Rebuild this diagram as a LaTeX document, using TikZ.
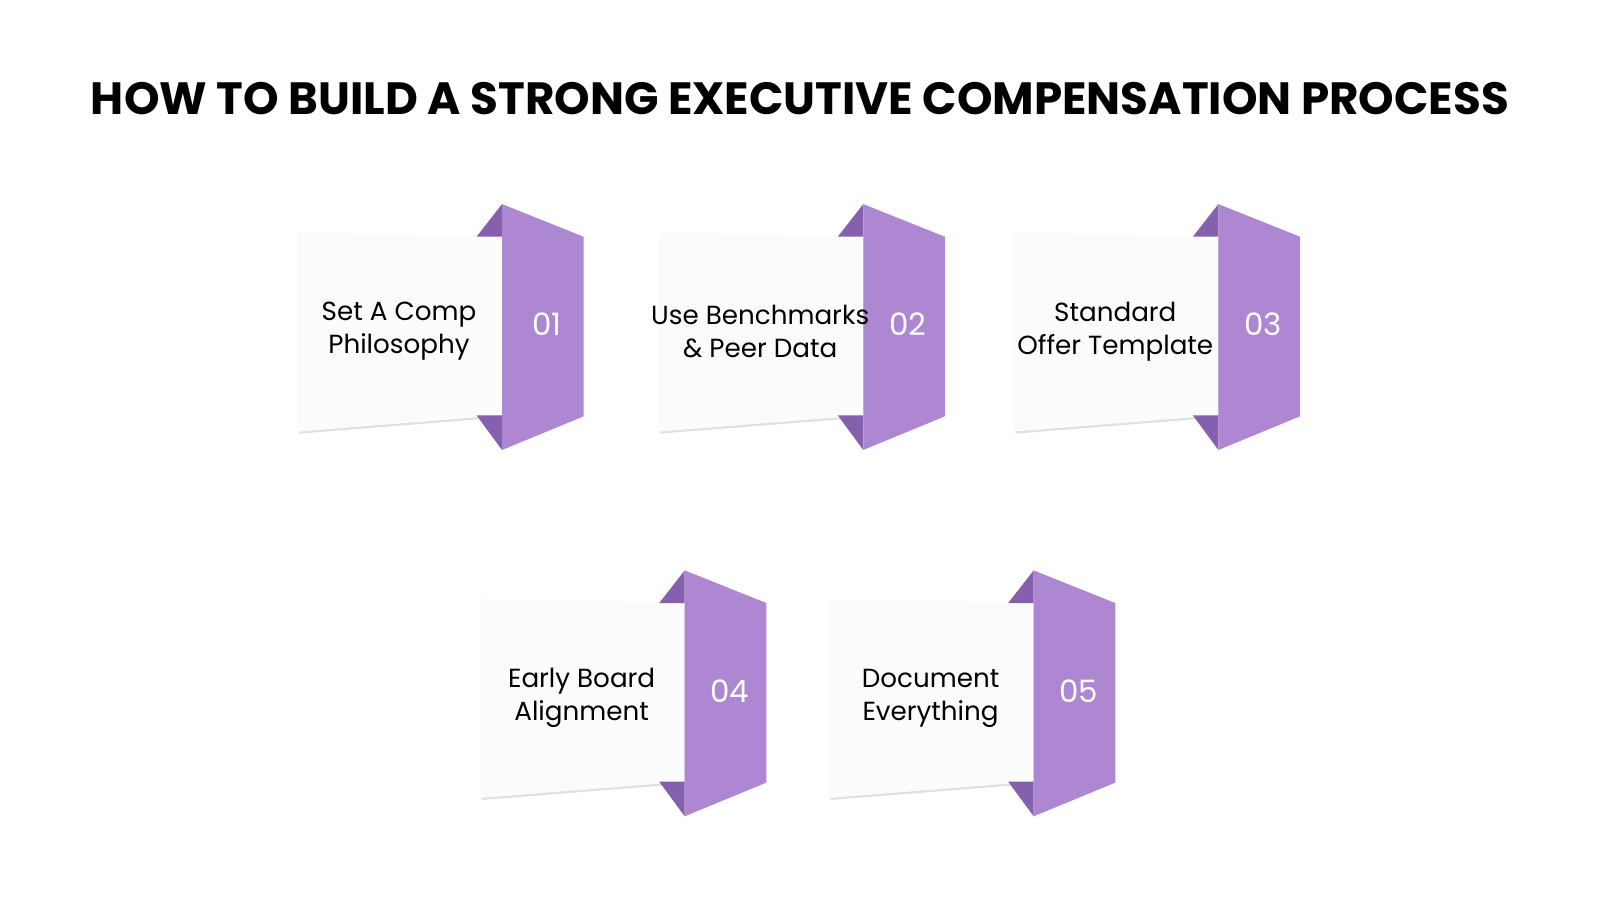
\documentclass[tikz,border=0pt]{standalone}
\usepackage{fontspec}
\setmainfont{Poppins}
\usetikzlibrary{positioning,calc}
\definecolor{panelpurple}{HTML}{AE87D2}
\definecolor{darkpurple}{HTML}{8560AE}
\definecolor{cardwhite}{HTML}{FBFBFB}
\tikzset{
  cardtext/.style={align=center, font=\fontsize{7.3}{9.2}\selectfont, text=black},
  numtext/.style={font=\fontsize{8.6}{10}\selectfont, text=white},
}
% one folded card: #1,#2 = top-left corner, #3 = name, #4 = text, #5 = number
\newcommand{\card}[5]{%
  \begin{scope}[shift={(#1,#2)}]
    \fill[black!12] (2,2) -- (203,6) -- (203,181) -- (2,197) -- cycle;
    \fill[cardwhite] (0,0) -- (201,4) -- (201,179) -- (0,195) -- cycle;
    \fill[darkpurple] (201,-28) -- (201,4) -- (176,4) -- cycle;
    \fill[darkpurple] (201,179) -- (176,179) -- (201,213) -- cycle;
    \fill[panelpurple] (201,-28) -- (281,4) -- (281,180) -- (201,213) -- cycle;
    \node[cardtext] (#3) at (100,97) {#4};
    \node[numtext] (#3num) at (245,90) {#5};
  \end{scope}}

\begin{document}
\begin{tikzpicture}[x=0.01cm, y=-0.01cm]
  \useasboundingbox (0,0) rectangle (1568,882);
  \fill[white] (0,0) rectangle (1568,882);
  % Title
  \node[font=\fontsize{12.6}{15}\selectfont\bfseries] (title) at (784,97)
    {HOW TO BUILD A STRONG EXECUTIVE COMPENSATION PROCESS};
  % Row 1
  \card{291}{228}{philo}{Set A Comp\\Philosophy}{01}
  \card{645}{228}{bench}{Use Benchmarks\\\& Peer Data}{02}
  \card{993}{228}{offer}{Standard\\Offer Template}{03}
  % Row 2
  \card{470}{587}{board}{Early Board\\Alignment}{04}
  \card{812}{587}{docs}{Document\\Everything}{05}
\end{tikzpicture}
\end{document}
